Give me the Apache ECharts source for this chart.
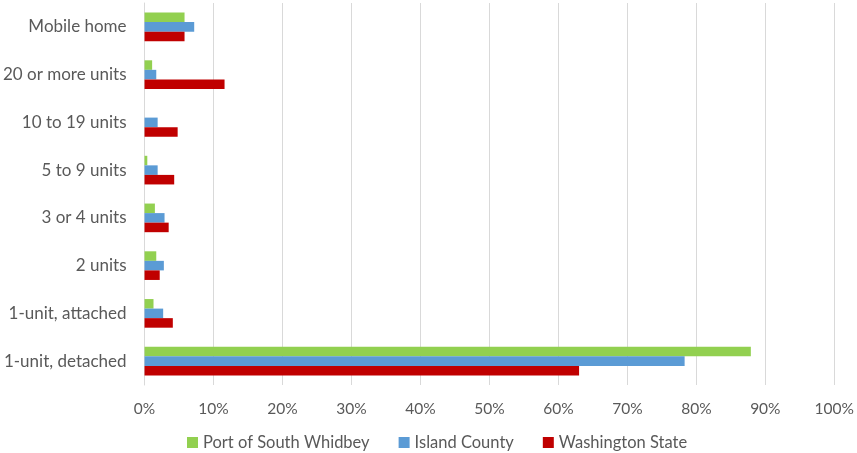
<!DOCTYPE html>
<html><head><meta charset="utf-8">
<script src="https://cdn.jsdelivr.net/npm/echarts@6/dist/echarts.min.js"></script>
<style>html,body{margin:0;padding:0;background:#fff}#c{width:857px;height:453px}</style>
</head><body><div id="c"></div>
<script>
const categories = ['1-unit, detached','1-unit, attached','2 units','3 or 4 units','5 to 9 units','10 to 19 units','20 or more units','Mobile home'];
const portSouthWhidbey = [87.9, 1.3, 1.7, 1.5, 0.4, 0, 1.1, 5.8];
const islandCounty = [78.3, 2.7, 2.8, 2.9, 1.9, 1.9, 1.7, 7.2];
const washingtonState = [63.0, 4.1, 2.2, 3.5, 4.3, 4.8, 11.6, 5.8];
const seriesNames = ['Port of South Whidbey','Island County','Washington State'];
const colors = {'Port of South Whidbey':'#92D050','Island County':'#5B9BD5','Washington State':'#C00000'};
const font = 'Lato, "Open Sans", sans-serif';
const chart = echarts.init(document.getElementById('c'));
function mk(name, data){
  return {name, type:'bar', data, barGap:'0%', barCategoryGap:'40%', itemStyle:{color:colors[name]}};
}
chart.setOption({
  animation:false,
  grid:{left:144, right:21, top:3, bottom:68, containLabel:false},
  legend:{data:seriesNames, top:429, left:182, itemWidth:11, itemHeight:11, itemGap:29, icon:'rect',
    textStyle:{color:'#595959', fontSize:16.5, fontFamily:font}},
  xAxis:{type:'value', min:0, max:100, interval:10,
    axisLabel:{formatter:'{value}%', color:'#595959', fontSize:15.5, fontFamily:font, margin:16},
    splitLine:{lineStyle:{color:'#d9d9d9'}}, axisLine:{show:false}, axisTick:{show:false}},
  yAxis:{type:'category', data:categories,
    axisLabel:{color:'#595959', fontSize:17, fontFamily:font, margin:18},
    axisLine:{lineStyle:{color:'#d9d9d9'}}, axisTick:{show:false}},
  series:[mk('Port of South Whidbey', portSouthWhidbey), mk('Island County', islandCounty), mk('Washington State', washingtonState)]
});
</script></body></html>
